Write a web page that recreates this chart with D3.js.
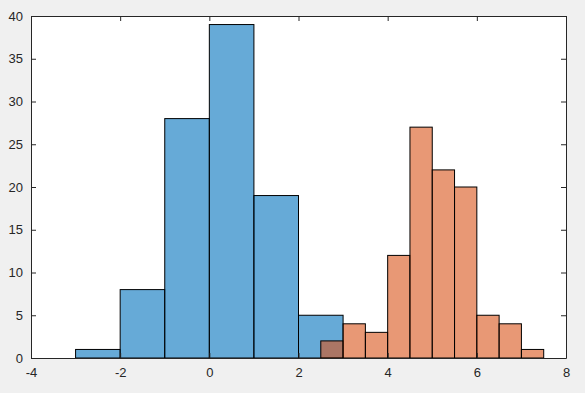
<!DOCTYPE html>
<html><head><meta charset="utf-8">
<script src="https://cdn.jsdelivr.net/npm/d3@7"></script>
<style>html,body{margin:0;padding:0;background:#f0f0f0;}svg{display:block;}</style>
</head><body>
<script>
// Data
const blueEdges = [-3, -2, -1, 0, 1, 2, 3];
const blueCounts = [1, 8, 28, 39, 19, 5];
const orangeEdges = [2.5, 3, 3.5, 4, 4.5, 5, 5.5, 6, 6.5, 7, 7.5];
const orangeCounts = [2, 4, 3, 12, 27, 22, 20, 5, 4, 1];
const xTicks = [-4, -2, 0, 2, 4, 6, 8];
const yTicks = [0, 5, 10, 15, 20, 25, 30, 35, 40];

const W = 585, H = 393;
const m = {left: 31, right: 19, top: 16, bottom: 35};
const svg = d3.select("body").append("svg").attr("width", W).attr("height", H);
svg.append("rect").attr("width", W).attr("height", H).attr("fill", "#f0f0f0");
const x = d3.scaleLinear().domain([-4, 8]).range([m.left, W - m.right]);
const y = d3.scaleLinear().domain([0, 40]).range([H - m.bottom, m.top]);

svg.append("rect").attr("x", x(-4)).attr("y", y(40))
  .attr("width", x(8) - x(-4)).attr("height", y(0) - y(40)).attr("fill", "#fff");

function bars(edges, counts, color) {
  const data = counts.map((c, i) => ({x0: edges[i], x1: edges[i + 1], c}));
  svg.append("g").selectAll("rect").data(data).join("rect")
    .attr("x", d => x(d.x0)).attr("y", d => y(d.c))
    .attr("width", d => x(d.x1) - x(d.x0)).attr("height", d => y(0) - y(d.c))
    .attr("fill", color).attr("fill-opacity", 0.6)
    .attr("stroke", "#000").attr("stroke-width", 1);
}
bars(blueEdges, blueCounts, "#0072BD");
bars(orangeEdges, orangeCounts, "#D95319");

const axisColor = "#262626";
const fontFam = "Helvetica, Arial, 'Liberation Sans', sans-serif";
const gx = svg.append("g").attr("transform", `translate(0,${y(0)})`)
  .call(d3.axisBottom(x).tickValues(xTicks).tickSizeInner(-5).tickSizeOuter(0).tickPadding(10));
const gy = svg.append("g").attr("transform", `translate(${x(-4)},0)`)
  .call(d3.axisLeft(y).tickValues(yTicks).tickSizeInner(-5).tickSizeOuter(0).tickPadding(8));
const gxt = svg.append("g").attr("transform", `translate(0,${y(40)})`)
  .call(d3.axisTop(x).tickValues(xTicks).tickSizeInner(-5).tickSizeOuter(0).tickFormat(""));
const gyr = svg.append("g").attr("transform", `translate(${x(8)},0)`)
  .call(d3.axisRight(y).tickValues(yTicks).tickSizeInner(-5).tickSizeOuter(0).tickFormat(""));
[gx, gy, gxt, gyr].forEach(g => {
  g.selectAll("path").attr("stroke", axisColor);
  g.selectAll("line").attr("stroke", axisColor);
  g.selectAll("text").attr("fill", axisColor).attr("font-family", fontFam).attr("font-size", 13);
});
gx.selectAll("text").text(d => d < 0 ? "-" + Math.abs(d) : d);
</script>
</body></html>
